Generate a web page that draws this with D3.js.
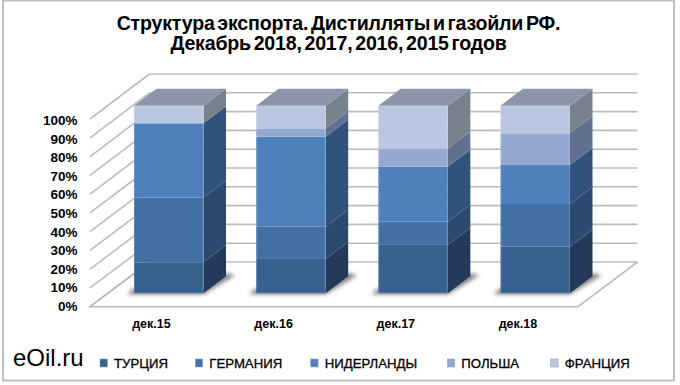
<!DOCTYPE html>
<html>
<head>
<meta charset="utf-8">
<script src="https://cdn.jsdelivr.net/npm/d3@7"></script>
<style>
  html, body { margin: 0; padding: 0; background: #fff; }
  svg { display: block; }
  text { font-family: "Liberation Sans", Arial, sans-serif; fill: #000; }
</style>
</head>
<body>
<svg id="chart" width="680" height="385"></svg>
<script>
var categories = ["дек.15", "дек.16", "дек.17", "дек.18"];
var series_names = ["ТУРЦИЯ", "ГЕРМАНИЯ", "НИДЕРЛАНДЫ", "ПОЛЬША", "ФРАНЦИЯ"];
var turkey = [16.5, 18.3, 25.8, 24.9];
var germany = [34.5, 17.2, 12.4, 22.7];
var netherlands = [39.6, 48.0, 29.3, 20.8];
var poland = [0, 4.4, 9.6, 16.9];
var france = [9.4, 12.1, 22.9, 14.7];
var tick_values = [0, 10, 20, 30, 40, 50, 60, 70, 80, 90, 100];
var title_lines = ["Структура экспорта. Дистилляты и газойли РФ.", "Декабрь 2018, 2017, 2016, 2015 годов"];
var watermark = "eOil.ru";

var front_colors = ["#37618f", "#4371a6", "#4e80bc", "#95a9d0", "#b9c6e0"];
var side_colors = ["#243a5a", "#2c4a6e", "#30527b", "#5f7090", "#78828f"];
var top_color = "#8c95a8";
var grid_color = "#bcbcbc";

var chart = d3.select("#chart");

// chart frame
chart.append("rect")
  .attr("x", 3).attr("y", 0.5)
  .attr("width", 671).attr("height", 380)
  .attr("fill", "#fff")
  .attr("stroke", "#bfbfbf")
  .attr("stroke-width", 2);

// Title
chart.append("g").selectAll("text").data(title_lines).join("text")
  .attr("x", 338.5)
  .attr("y", function (d, i) { return 30 + i * 20; })
  .attr("text-anchor", "middle")
  .attr("font-size", 19.6)
  .attr("font-weight", "bold")
  .attr("letter-spacing", -0.2)
  .attr("word-spacing", -2.5)
  .text(function (d) { return d; });

// -----------------------------------
// Scales: the front plane of the bars, and the wall/floor planes of the box
var x = d3.scaleBand().domain(categories).range([134, 570]).paddingInner(0.431).paddingOuter(0);
var y_bar = d3.scaleLinear().domain([0, 100]).range([293.3, 105.7]);
var y_front = d3.scaleLinear().domain([0, 100]).range([306.7, 119]);
var y_back = d3.scaleLinear().domain([0, 100]).range([262, 74]);
var y_label = d3.scaleLinear().domain([0, 100]).range([310.7, 125.3]);
var depth_x = 22.5, depth_y = 17;
var box_left = 90, box_right = 578, box_dx = 59.5;

// Wall gridlines and left-side lines
var grid = chart.append("g").attr("fill", "none").attr("stroke", grid_color).attr("stroke-width", 1.6);
grid.selectAll("line.wall").data(tick_values).join("line")
  .attr("class", "wall")
  .attr("x1", box_left + box_dx).attr("x2", box_right + box_dx)
  .attr("y1", function (d) { return y_back(d); })
  .attr("y2", function (d) { return y_back(d); });
grid.selectAll("line.side").data(tick_values).join("line")
  .attr("class", "side")
  .attr("x1", box_left).attr("x2", box_left + box_dx)
  .attr("y1", function (d) { return y_front(d); })
  .attr("y2", function (d) { return y_back(d); });
// floor outline
grid.append("path")
  .attr("d", d3.line()([
    [box_left + box_dx, y_back(0)],
    [box_left, y_front(0)],
    [box_right, y_front(0)],
    [box_right + box_dx, y_back(0)]
  ]));

// Y tick labels
chart.append("g").selectAll("text").data(tick_values).join("text")
  .attr("x", 77.5)
  .attr("y", function (d) { return y_label(d); })
  .attr("text-anchor", "end")
  .attr("font-size", 13.5)
  .attr("font-weight", "bold")
  .text(function (d) { return d + "%"; });

// Category labels
chart.append("g").selectAll("text").data(categories).join("text")
  .attr("x", function (d) { return x(d) + x.bandwidth() / 2 - 17.3; })
  .attr("y", 328)
  .attr("text-anchor", "middle")
  .attr("font-size", 12.5)
  .attr("font-weight", "bold")
  .text(function (d) { return d; });

// Shadows on the floor
var defs = chart.append("defs");
defs.append("filter").attr("id", "soft")
  .attr("x", "-30%").attr("y", "-60%").attr("width", "160%").attr("height", "220%")
  .append("feGaussianBlur").attr("stdDeviation", 2);

chart.append("g").selectAll("path").data(categories).join("path")
  .attr("fill", "#555")
  .attr("opacity", 0.75)
  .attr("filter", "url(#soft)")
  .attr("d", function (d) {
    var x0 = x(d), x1 = x(d) + x.bandwidth(), y0 = y_bar(0);
    return d3.line()([
      [x0 - 7, y0 + 1],
      [x1, y0 + 1],
      [x1 + depth_x + 9, y0 - depth_y - 1],
      [x1 + depth_x, y0 - depth_y - 3],
      [x1, y0 - 5],
      [x0, y0 - 5]
    ]) + "Z";
  });

// Stacked 3D bars
var rows = categories.map(function (c, i) {
  return { cat: c, a: turkey[i], b: germany[i], c: netherlands[i], d: poland[i], e: france[i] };
});
var stacked = d3.stack().keys(["a", "b", "c", "d", "e"])(rows);

var bars = chart.append("g");
stacked.forEach(function (layer, s) {
  var g = bars.append("g");
  // side face
  g.selectAll("path").data(layer).join("path")
    .attr("fill", side_colors[s])
    .attr("d", function (d) {
      var x1 = x(d.data.cat) + x.bandwidth();
      return d3.line()([
        [x1, y_bar(d[0])],
        [x1 + depth_x, y_bar(d[0]) - depth_y],
        [x1 + depth_x, y_bar(d[1]) - depth_y],
        [x1, y_bar(d[1])]
      ]) + "Z";
    });
  // front face
  g.selectAll("rect").data(layer).join("rect")
    .attr("x", function (d) { return x(d.data.cat); })
    .attr("width", x.bandwidth())
    .attr("y", function (d) { return y_bar(d[1]); })
    .attr("height", function (d) { return y_bar(d[0]) - y_bar(d[1]); })
    .attr("fill", front_colors[s]);
});

// top face
bars.append("g").selectAll("path").data(categories).join("path")
  .attr("fill", top_color)
  .attr("d", function (d) {
    var x0 = x(d), x1 = x(d) + x.bandwidth(), y1 = y_bar(100);
    return d3.line()([
      [x0, y1],
      [x0 + depth_x, y1 - depth_y],
      [x1 + depth_x, y1 - depth_y],
      [x1, y1]
    ]) + "Z";
  });

// soft light edge round the front of each bar
bars.append("g").selectAll("rect").data(categories).join("rect")
  .attr("x", function (d) { return x(d) + 0.5; })
  .attr("width", x.bandwidth() - 1)
  .attr("y", y_bar(100) + 0.5)
  .attr("height", y_bar(0) - y_bar(100) - 1)
  .attr("fill", "none")
  .attr("stroke", "#fff")
  .attr("stroke-opacity", 0.15);

// Legend
var legend_x = [100, 195.3, 310.7, 447.3, 550.7];
var legend = chart.append("g").selectAll("g").data(series_names).join("g")
  .attr("transform", function (d, i) { return "translate(" + legend_x[i] + ",368.3)"; });
legend.append("rect")
  .attr("x", 0).attr("y", -9.3)
  .attr("width", 7.4).attr("height", 8)
  .attr("fill", function (d, i) { return front_colors[i]; })
  .attr("stroke", "#9aa5b5")
  .attr("stroke-width", 0.6);
legend.append("text")
  .attr("x", 14)
  .attr("font-size", 13.2)
  .attr("stroke", "#000")
  .attr("stroke-width", 0.3)
  .text(function (d) { return d; });

// Watermark
chart.append("text")
  .attr("x", 13).attr("y", 366)
  .attr("font-size", 24)
  .text(watermark);
</script>
</body>
</html>
